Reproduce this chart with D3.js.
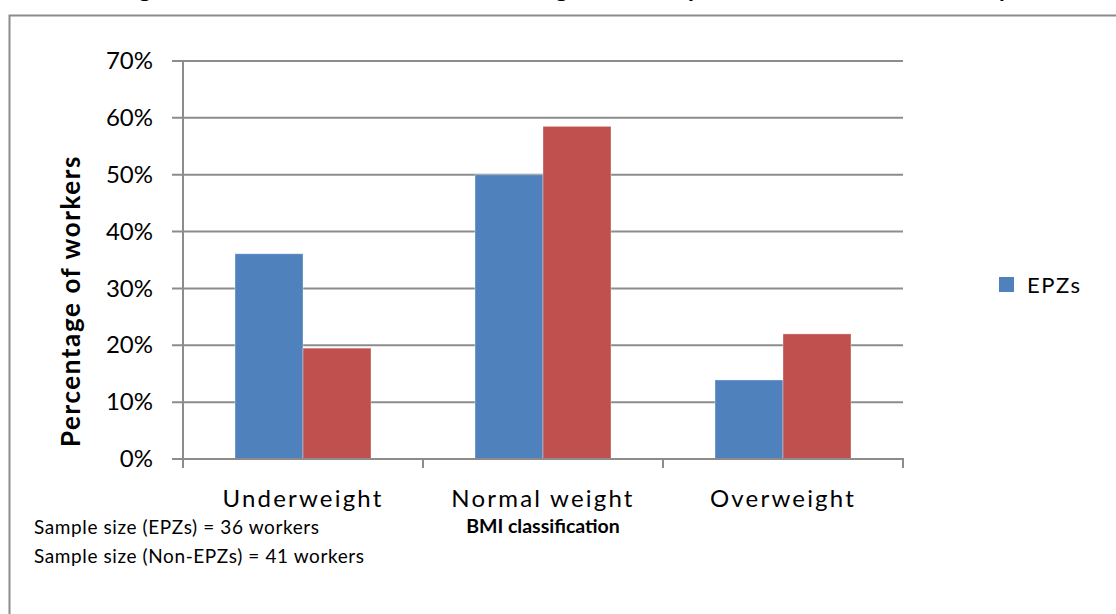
<!DOCTYPE html>
<html>
<head>
<meta charset="utf-8">
<script src="https://cdn.jsdelivr.net/npm/d3@7"></script>
<style>
  body { margin: 0; background: #fff; }
  svg { display: block; font-family: Lato, "Open Sans", sans-serif; }
</style>
</head>
<body>
<svg width="1116" height="614"></svg>
<script>
const categories = ['Underweight', 'Normal weight', 'Overweight']
const seriesNames = ['EPZs', 'Non-EPZs']
const epzValues = [36.1, 50.0, 13.9]
const nonEpzValues = [19.5, 58.5, 22.0]
const yTicks = [0, 10, 20, 30, 40, 50, 60, 70]
const legendNames = ['EPZs']
const sampleNotes = ['Sample size (EPZs) = 36 workers', 'Sample size (Non-EPZs) = 41 workers']
const colors = {EPZs: '#4f81bd', 'Non-EPZs': '#c0504d'}

const svg = d3.select('svg')
const gridColor = '#8c8c8c'

// outer chart frame (runs off the right and bottom of the picture)
svg.append('rect')
    .attr('x', 9.5).attr('y', 15.5)
    .attr('width', 1200).attr('height', 700)
    .attr('fill', 'none')
    .attr('stroke', '#8c8c8c')
    .attr('stroke-width', 2)

// title, mostly cut off above the frame
svg.append('text')
    .attr('x', 590).attr('y', -3)
    .attr('text-anchor', 'middle')
    .attr('font-weight', 'bold')
    .attr('font-size', 24)
    .text('Figure 3: Nutritional status of workers in garment shops inside and outside zones by BMI')

const x = d3.scaleBand().domain(categories).range([183, 903])
const xs = d3.scaleBand().domain(seriesNames).range([0, x.bandwidth()]).paddingOuter(0.765)
const y = d3.scaleLinear().domain([0, 70]).range([459, 61])

// gridlines with short ticks on the left
svg.append('g')
    .selectAll('line')
    .data(yTicks)
    .join('line')
    .attr('x1', 172).attr('x2', 903)
    .attr('y1', d => y(d)).attr('y2', d => y(d))
    .attr('stroke', gridColor)
    .attr('stroke-width', 2)

// bars
const rows = seriesNames.map((s, i) => ({name: s, values: i === 0 ? epzValues : nonEpzValues}))
rows.forEach(row => {
    svg.append('g')
        .selectAll('rect')
        .data(row.values)
        .join('rect')
        .attr('x', (d, i) => x(categories[i]) + xs(row.name))
        .attr('y', d => y(d))
        .attr('width', xs.bandwidth())
        .attr('height', d => y(0) - y(d))
        .attr('fill', colors[row.name])
        .attr('stroke', 'rgba(255,255,255,0.35)')
        .attr('stroke-width', 1)
})

// y axis line
svg.append('line')
    .attr('x1', 183).attr('x2', 183)
    .attr('y1', y(70)).attr('y2', y(0) + 9)
    .attr('stroke', gridColor).attr('stroke-width', 2)

// x axis with category boundary ticks
const xAxis = svg.append('g').attr('transform', `translate(0,${y(0)})`)
xAxis.append('line')
    .attr('x1', 172).attr('x2', 904)
    .attr('stroke', gridColor).attr('stroke-width', 2)
xAxis.selectAll('line.tick')
    .data(categories.map(c => x(c)).concat([x.range()[1]]))
    .join('line')
    .attr('class', 'tick')
    .attr('x1', d => d).attr('x2', d => d)
    .attr('y1', 0).attr('y2', 9)
    .attr('stroke', gridColor).attr('stroke-width', 2)

// y tick labels
const yAxis = d3.axisLeft(y).tickValues(yTicks).tickFormat(d => d + '%').tickSize(0).tickPadding(0)
svg.append('g')
    .attr('transform', 'translate(153,0)')
    .call(yAxis)
    .call(g => g.select('.domain').remove())
    .selectAll('text')
    .attr('font-family', 'Lato, sans-serif')
    .attr('font-size', 24)
    .attr('fill', '#000')

// category labels
svg.append('g')
    .selectAll('text')
    .data(categories)
    .join('text')
    .attr('x', d => x(d) + x.bandwidth() / 2)
    .attr('y', 507)
    .attr('text-anchor', 'middle')
    .attr('font-size', 24)
    .attr('letter-spacing', 2.2)
    .text(d => d)

// axis titles
svg.append('text')
    .attr('x', 543).attr('y', 533)
    .attr('text-anchor', 'middle')
    .attr('font-weight', 'bold')
    .attr('font-size', 19.5)
    .text('BMI  classification')

svg.append('text')
    .attr('transform', 'translate(80,301) rotate(-90)')
    .attr('text-anchor', 'middle')
    .attr('font-weight', 'bold')
    .attr('font-size', 26)
    .attr('letter-spacing', 1.6)
    .text('Percentage of workers')

// legend, only the first entry fits
const legend = svg.append('g')
    .selectAll('g')
    .data(legendNames)
    .join('g')
    .attr('transform', (d, i) => `translate(999,${277 + i * 30})`)
legend.append('rect')
    .attr('width', 15).attr('height', 15)
    .attr('fill', d => colors[d])
legend.append('text')
    .attr('x', 28).attr('y', 16)
    .attr('font-size', 22)
    .attr('letter-spacing', 1.5)
    .text(d => d)

// sample size notes
svg.append('g')
    .selectAll('text')
    .data(sampleNotes)
    .join('text')
    .attr('x', 34)
    .attr('y', (d, i) => 534 + i * 29)
    .attr('font-size', 19)
    .attr('letter-spacing', 0.6)
    .text(d => d)
</script>
</body>
</html>
